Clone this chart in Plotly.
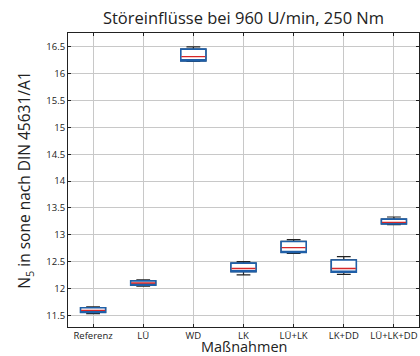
import plotly.graph_objects as go

categories = ["Referenz", "LÜ", "WD", "LK", "LÜ+LK", "LK+DD", "LÜ+LK+DD"]
positions = [1, 2, 3, 4, 5, 6, 7]
lower_whisker = [11.53, 12.04, 16.23, 12.25, 12.65, 12.26, 13.19]
q1 = [11.55, 12.06, 16.24, 12.31, 12.67, 12.30, 13.20]
median = [11.59, 12.10, 16.32, 12.37, 12.76, 12.37, 13.23]
q3 = [11.64, 12.14, 16.46, 12.47, 12.875, 12.53, 13.29]
upper_whisker = [11.655, 12.16, 16.50, 12.50, 12.91, 12.59, 13.33]
y_ticks = [11.5, 12, 12.5, 13, 13.5, 14, 14.5, 15, 15.5, 16, 16.5]

FONT = "Open Sans"
BW = 0.5

fig = go.Figure()
# whiskers (black)
fig.add_trace(go.Box(x=positions, q1=q1, median=median, q3=q3,
                     lowerfence=lower_whisker, upperfence=upper_whisker,
                     width=BW, whiskerwidth=0.55, line=dict(color="#222222", width=1.2),
                     fillcolor="rgba(0,0,0,0)", boxpoints=False, hoverinfo="skip"))
# box outline (blue)
fig.add_trace(go.Box(x=positions, q1=q1, median=q1, q3=q3,
                     lowerfence=q1, upperfence=q3,
                     width=BW, whiskerwidth=0, line=dict(color="#1f5fa8", width=1.6),
                     fillcolor="white", boxpoints=False, hoverinfo="skip"))
# median (red)
fig.add_trace(go.Box(x=positions, q1=median, median=median, q3=median,
                     lowerfence=median, upperfence=median,
                     width=BW * 0.96, whiskerwidth=0, line=dict(color="#d62728", width=1.4),
                     fillcolor="rgba(0,0,0,0)", boxpoints=False, hoverinfo="skip"))

fig.update_layout(
    width=420, height=356,
    margin=dict(l=68, r=1, t=33, b=29, autoexpand=False),
    paper_bgcolor="white", plot_bgcolor="white",
    showlegend=False, boxmode="overlay",
    font=dict(family=FONT, color="#222222"),
    title=dict(text="Störeinflüsse bei 960 U/min, 250 Nm", xref="paper", x=0.5, xanchor="center",
               yref="container", y=1 - 18 / 356, yanchor="middle",
               font=dict(size=16.5, family=FONT, color="#222222")),
    annotations=[dict(text="Maßnahmen", xref="paper", yref="paper", x=0.5, y=-(346.5 - 327) / 294,
                      xanchor="center", yanchor="middle", showarrow=False,
                      font=dict(size=14.5, family=FONT, color="#222222"))],
)
fig.update_xaxes(
    range=[0.5, 7.5], tickmode="array", tickvals=positions, ticktext=categories,
    tickfont=dict(size=9.5), ticks="inside", ticklen=3, tickcolor="#222222",
    showline=True, linecolor="#222222", linewidth=1, mirror="ticks",
    showgrid=True, gridcolor="#c8c8c8", gridwidth=1, zeroline=False, automargin=False,
)
fig.update_yaxes(
    range=[11.28, 16.76], tickmode="array", tickvals=y_ticks,
    ticktext=[("%g" % v) for v in y_ticks],
    tickfont=dict(size=9.5), ticks="inside", ticklen=3, tickcolor="#222222",
    showline=True, linecolor="#222222", linewidth=1, mirror="ticks",
    showgrid=True, gridcolor="#c8c8c8", gridwidth=1, zeroline=False, automargin=False,
    title=dict(text="N<sub>5</sub> in sone nach DIN 45631/A1", font=dict(size=15.5), standoff=11),
)

fig.write_html("out.html", config={"displayModeBar": False},
               post_script="document.body.style.margin='0';document.body.style.overflow='hidden';")
